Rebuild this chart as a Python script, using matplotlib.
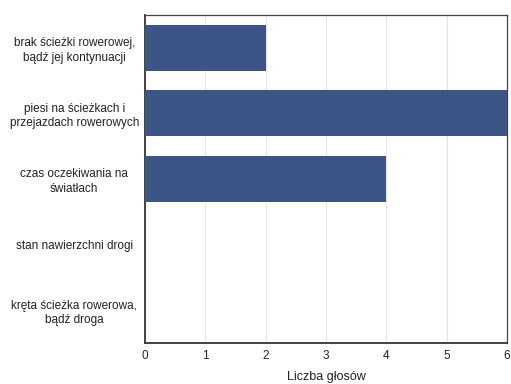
import matplotlib
matplotlib.use('Agg')
import matplotlib.pyplot as plt
import numpy as np

plt.rcParams['font.family'] = ['Liberation Sans', 'DejaVu Sans']

categories = ['brak ścieżki rowerowej,\nbądź jej kontynuacji',
              'piesi na ścieżkach i\nprzejazdach rowerowych',
              'czas oczekiwania na\nświatłach',
              'stan nawierzchni drogi',
              'kręta ścieżka rowerowa,\nbądź droga']
votes = [2, 6, 4, 0, 0]
xticks = [0, 1, 2, 3, 4, 5, 6]

fig = plt.figure(figsize=(5.11, 3.84), dpi=100)
ax = fig.add_axes([0.284, 0.107, 0.708, 0.854])

y = np.arange(len(categories))
ax.barh(y, votes, height=0.7, color='#3b5587', zorder=3)
ax.set_yticks(y)
ax.set_yticklabels(categories, fontsize=8.5, ha='center', color='#222222',
                   linespacing=1.25)
ax.tick_params(axis='y', length=0, pad=51)
ax.set_ylim(len(categories) - 0.5, -0.5)

ax.set_xlim(0, 6)
ax.set_xticks(xticks)
ax.set_xticklabels([str(t) for t in xticks], fontsize=8.5, color='#222222')
ax.tick_params(axis='x', length=0, pad=5)
ax.grid(axis='x', color='#e4e4e4', linewidth=0.8, zorder=0)
ax.set_xlabel('Liczba głosów', fontsize=9, color='#222222', labelpad=6.5)

for side in ['left', 'bottom']:
    ax.spines[side].set_linewidth(1.3)
    ax.spines[side].set_color('#333333')
for side in ['top', 'right']:
    ax.spines[side].set_linewidth(0.9)
    ax.spines[side].set_color('#444444')

fig.savefig('out.png', dpi=100)
